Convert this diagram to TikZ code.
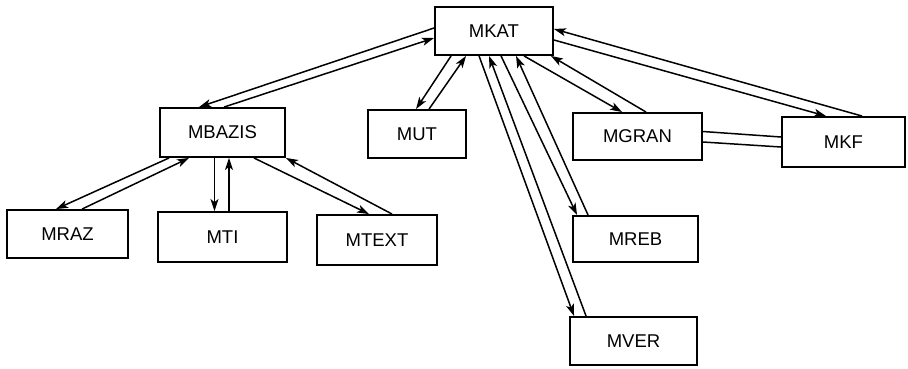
\documentclass[tikz,border=0pt]{standalone}
\usepackage{fontspec}
\setmainfont{Liberation Sans}
\usetikzlibrary{arrows.meta}
\tikzset{
  module/.style={draw, line width=1.9pt, minimum width=#1, minimum height=48pt, inner sep=0pt,
    font=\fontsize{18.5}{21}\selectfont},
  link/.style={line width=1.5pt, -{Stealth[length=12pt,width=8pt,inset=3pt]}},
  plain/.style={line width=1.5pt},
}
\begin{document}
\begin{tikzpicture}[x=1pt,y=-1pt]
      \useasboundingbox (0,0) rectangle (908,368);

      \node[module=118pt] (mkat) at (494,31) {MKAT};
      \node[module=125pt, minimum height=49pt] (mbazis) at (222.5,132.5) {MBAZIS};
      \node[module=98pt] (mut) at (417,134) {MUT};
      \node[module=129pt, minimum height=47pt] (mgran) at (637.5,136.5) {MGRAN};
      \node[module=123pt, minimum height=50pt] (mkf) at (843.5,142) {MKF};
      \node[module=121pt] (mraz) at (67.5,234) {MRAZ};
      \node[module=129pt, minimum height=50pt] (mti) at (222.5,237) {MTI};
      \node[module=120pt, minimum height=50pt] (mtext) at (377,240) {MTEXT};
      \node[module=125pt, minimum height=46pt] (mreb) at (635.5,239) {MREB};
      \node[module=127pt] (mver) at (633.5,341) {MVER};

      \draw[link] ([yshift=3pt]mkat.west) -- ([xshift=40pt]mbazis.north west);
      \draw[link] ([xshift=65pt]mbazis.north west) -- ([yshift=-7pt]mkat.west);

      \draw[link] ([xshift=17pt]mkat.south west) -- ([xshift=49pt]mut.north west);
      \draw[link] ([xshift=62pt]mut.north west) -- ([xshift=32pt]mkat.south west);

      \draw[link] ([xshift=45pt]mkat.south west) -- ([xshift=5pt]mver.north west);
      \draw[link] ([xshift=17pt]mver.north west) -- ([xshift=55pt]mkat.south west);

      \draw[link] ([xshift=67pt]mkat.south west) -- ([xshift=5pt]mreb.north west);
      \draw[link] ([xshift=16pt]mreb.north west) -- ([xshift=82pt]mkat.south west);

      \draw[link] ([xshift=90pt]mkat.south west) -- ([xshift=50pt]mgran.north west);
      \draw[link] ([xshift=74pt]mgran.north west) -- ([xshift=-3pt]mkat.south east);

      \draw[link] ([yshift=-9pt]mkat.east) -- ([xshift=45pt]mkf.north west);
      \draw[link] ([xshift=81pt]mkf.north west) -- ([yshift=2pt]mkat.east);

      \draw[plain] ([yshift=5pt]mgran.east) -- ([yshift=5pt]mkf.west);
      \draw[plain] ([yshift=-5.5pt]mgran.east) -- ([yshift=-5pt]mkf.west);

      \draw[link] ([xshift=10pt]mbazis.south west) -- ([xshift=50pt]mraz.north west);
      \draw[link] ([xshift=76pt]mraz.north west) -- ([xshift=30pt]mbazis.south west);

      \draw[link] ([xshift=-8pt]mbazis.south) -- ([xshift=-8pt]mti.north);
      \draw[link] ([xshift=6.5pt]mti.north) -- ([xshift=6.5pt]mbazis.south);

      \draw[link] ([xshift=76pt]mtext.north west) -- (mbazis.south east);
      \draw[link] ([xshift=-32pt]mbazis.south east) -- ([xshift=53pt]mtext.north west);
\end{tikzpicture}
\end{document}
